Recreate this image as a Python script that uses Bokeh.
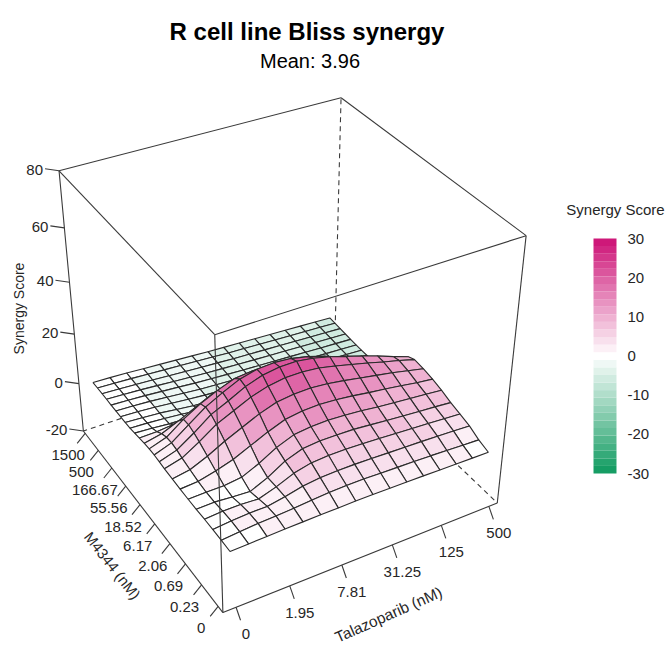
import numpy as np
from bokeh.plotting import figure
from bokeh.models import Range1d
from bokeh.core.properties import value
from bokeh.embed import file_html
from bokeh.resources import INLINE

title_text = "R cell line Bliss synergy"
subtitle_text = "Mean: 3.96"
z_title = "Synergy Score"
x_title = "Talazoparib (nM)"
y_title = "M4344 (nM)"
legend_title = "Synergy Score"
talazoparib_labels = ["0", "1.95", "7.81", "31.25", "125", "500"]
m4344_labels = ["0", "0.23", "0.69", "2.06", "6.17", "18.52", "55.56", "166.67", "500", "1500"]
z_ticks = [-20, 0, 20, 40, 60, 80]
legend_ticks = [-30, -20, -10, 0, 10, 20, 30]

# where each surface row sits along the M4344 axis, in dose steps
row_positions = [0,0.5,1.0,1.5,2.0,2.5,3.0,3.5,4.0,4.33,4.67,5.0,5.33,5.67,6.0,6.33,6.67,7.0,7.33,7.67,8.0,8.33,8.67,9.0]
# Surface heights: one row per M4344 step (front to back), one value per Talazoparib step
r00 = [0.0,0.2,0.4,0.6,0.7,0.8,0.9,1.0,1.0,0.9,0.8,0.7,0.5,0.4,0.3,0.2]
r01 = [0.2,0.8,1.4,1.6,2.0,2.6,3.0,3.2,3.2,3.0,2.8,2.6,2.4,2.1,1.8,1.5]
r02 = [0.3,1.0,1.4,1.4,2.6,4.2,5.0,5.2,5.2,5.0,4.8,4.6,4.4,4.1,3.8,3.5]
r03 = [0.3,0.8,0.8,0.4,2.6,5.4,7.0,7.4,7.4,7.2,6.8,6.4,6.0,5.6,5.2,4.7]
r04 = [0.2,0.4,-0.2,-0.6,2.4,6.4,8.8,9.4,9.4,9.2,8.6,8.0,7.4,6.9,6.4,5.8]
r05 = [0.2,0.4,0.4,1.2,4.2,8.0,10.6,11.4,11.6,11.2,10.6,9.8,9.2,8.6,8.0,7.3]
r06 = [0.3,0.8,2.4,4.5,7.5,10.5,13.0,14.0,14.2,13.8,13.0,12.0,11.2,10.2,9.2,8.4]
r07 = [0.5,1.6,4.5,8.0,11.0,14.0,16.2,17.0,17.2,16.6,15.6,14.4,13.2,12.0,10.6,9.2]
r08 = [0.7,2.5,6.5,11.0,14.0,17.0,19.0,20.0,20.0,19.4,18.0,16.4,14.8,13.0,11.4,9.6]
r09 = [1.0,3.2,7.6,12.5,15.5,18.8,21.0,22.0,22.0,21.0,19.4,17.4,15.4,13.2,10.8,8.6]
r10 = [1.2,3.6,8.4,13.0,16.4,19.4,21.0,21.4,20.8,19.4,17.4,15.0,12.6,10.0,7.4,5.0]
r11 = [1.2,3.4,8.2,12.0,15.0,17.4,18.0,17.4,16.0,14.0,11.4,8.8,6.0,3.6,1.2,-1.0]
r12 = [1.0,2.4,5.2,8.4,11.4,12.0,11.0,9.4,7.6,5.6,3.4,1.4,-0.6,-2.2,-3.2,-4.0]
r13 = [0.6,0.8,1.4,2.4,5.4,4.6,2.6,1.0,-0.2,-1.2,-2.2,-3.0,-3.6,-4.2,-4.6,-5.0]
r14 = [0.2,-0.2,-0.8,-1.0,0.0,-1.4,-2.6,-3.2,-3.6,-3.8,-4.0,-4.2,-4.4,-4.6,-5.0,-5.4]
r15 = [-0.2,-0.5,-1.0,-1.6,-2.4,-3.0,-3.4,-3.8,-4.0,-4.2,-4.4,-4.6,-4.8,-5.0,-5.4,-5.8]
r16 = [-0.3,-0.7,-1.2,-2.0,-2.8,-3.2,-3.6,-4.0,-4.2,-4.4,-4.6,-4.8,-5.2,-5.5,-5.8,-6.2]
r17 = [-0.3,-0.6,-1.1,-1.8,-2.4,-3.0,-3.4,-3.8,-4.2,-4.4,-4.7,-5.0,-5.3,-5.6,-5.9,-6.2]
r18 = [-0.3,-0.6,-1.0,-1.6,-2.2,-2.8,-3.2,-3.6,-4.0,-4.3,-4.6,-4.9,-5.2,-5.5,-5.8,-6.1]
r19 = [-0.3,-0.6,-1.0,-1.5,-2.0,-2.6,-3.0,-3.4,-3.8,-4.1,-4.4,-4.7,-5.0,-5.3,-5.6,-5.9]
r20 = [-0.2,-0.5,-0.9,-1.4,-1.9,-2.4,-2.8,-3.2,-3.6,-3.9,-4.2,-4.5,-4.8,-5.1,-5.4,-5.7]
r21 = [-0.2,-0.5,-0.9,-1.3,-1.8,-2.2,-2.6,-3.0,-3.4,-3.7,-4.0,-4.3,-4.6,-4.9,-5.2,-5.5]
r22 = [-0.2,-0.5,-0.8,-1.2,-1.6,-2.0,-2.4,-2.8,-3.2,-3.5,-3.8,-4.1,-4.4,-4.7,-5.0,-5.3]
r23 = [-0.2,-0.4,-0.7,-1.1,-1.5,-1.9,-2.3,-2.7,-3.0,-3.3,-3.6,-3.9,-4.2,-4.5,-4.8,-5.1]
rows = [r00,r01,r02,r03,r04,r05,r06,r07,r08,r09,r10,r11,r12,r13,r14,r15,r16,r17,r18,r19,r20,r21,r22,r23]
Z = np.array(rows, float)
n_m, n_t = Z.shape

# ---- view: page-pixel frame, and the perspective camera of the 3D box
W, H = 670, 647
OX, OY = 0, 0
T_LIM = (-0.24, 5.18)   # box limits in dose-step units
M_LIM = (-0.28, 9.14)
Z_LIM = (-20, 80)
camera_views = [  # (t, m, z) box corners -> where they appear on the page
    ((T_LIM[0], M_LIM[0], Z_LIM[0]), (222, 612)),
    ((T_LIM[0], M_LIM[1], Z_LIM[0]), (83, 431)),
    ((T_LIM[1], M_LIM[0], Z_LIM[0]), (497, 502)),
    ((T_LIM[0], M_LIM[0], Z_LIM[1]), (214, 334)),
    ((T_LIM[0], M_LIM[1], Z_LIM[1]), (59, 170)),
    ((T_LIM[1], M_LIM[0], Z_LIM[1]), (526, 236)),
    ((T_LIM[1], M_LIM[1], Z_LIM[1]), (340, 97)),
]
A, b = [], []
for (X, Y, Zc), (u, v) in camera_views:
    A.append([X, Y, Zc, 1, 0, 0, 0, 0, -u*X, -u*Y, -u*Zc]); b.append(u)
    A.append([0, 0, 0, 0, X, Y, Zc, 1, -v*X, -v*Y, -v*Zc]); b.append(v)
sol = np.linalg.lstsq(np.array(A, float), np.array(b, float), rcond=None)[0]
P = np.append(sol, 1.0).reshape(3, 4)

def project(t, m, z):
    t, m, z = np.asarray(t, float), np.asarray(m, float), np.asarray(z, float)
    w = P[2, 0]*t + P[2, 1]*m + P[2, 2]*z + P[2, 3]
    return ((P[0, 0]*t + P[0, 1]*m + P[0, 2]*z + P[0, 3]) / w,
            (P[1, 0]*t + P[1, 1]*m + P[1, 2]*z + P[1, 3]) / w)

# ---- colours
MAGENTA = np.array([204, 16, 117.0])
GREEN = np.array([14, 154, 95.0])
N_BANDS = 31
def band_colour(v):
    k = int(np.clip(np.floor((v + 30) / 60 * N_BANDS), 0, N_BANDS - 1))
    mid = (k + 0.5) / N_BANDS * 60 - 30
    f = abs(mid) / 30
    c = (1 - f) * 255 + f * (MAGENTA if mid > 0 else GREEN)
    return "#%02x%02x%02x" % tuple(int(round(x)) for x in c)

p = figure(width=W, height=H, output_backend="svg", toolbar_location=None,
           x_range=Range1d(OX, OX + W), y_range=Range1d(OY + H, OY),
           min_border=0, outline_line_color=None)
p.axis.visible = False
p.grid.visible = False
p.background_fill_color = "white"
BOX = "#3a3a3a"
TXT = "#262626"
FONT = value("Liberation Sans")

def seg(a, b, **kw):
    x, y = project([a[0], b[0]], [a[1], b[1]], [a[2], b[2]])
    p.line(list(x), list(y), line_color=BOX, line_width=1.1, **kw)

t0, t1 = T_LIM; m0, m1 = M_LIM; z0, z1 = Z_LIM
# hidden box edges first
for a, b_ in [((t1, m1, z0), (t0, m1, z0)), ((t1, m1, z0), (t1, m0, z0)), ((t1, m1, z0), (t1, m1, z1))]:
    seg(a, b_, line_dash="5 4")

# surface, far facets first
T = np.arange(n_t) / 3.0
M = np.array(row_positions, float)
xs, ys, cols = [], [], []
for i in range(n_m - 2, -1, -1):
    for j in range(n_t - 2, -1, -1):
        tt = [T[j], T[j+1], T[j+1], T[j]]
        mm = [M[i], M[i], M[i+1], M[i+1]]
        zz = [Z[i, j], Z[i, j+1], Z[i+1, j+1], Z[i+1, j]]
        x, y = project(tt, mm, zz)
        xs.append(list(x)); ys.append(list(y))
        cols.append(band_colour(np.mean(zz)))
p.patches(xs, ys, fill_color=cols, line_color="#2b2b2b", line_width=1.1)

# visible box edges
for a, b_ in [((t0, m0, z0), (t0, m1, z0)), ((t0, m0, z0), (t1, m0, z0)),
              ((t0, m0, z0), (t0, m0, z1)), ((t0, m1, z0), (t0, m1, z1)), ((t1, m0, z0), (t1, m0, z1)),
              ((t0, m0, z1), (t0, m1, z1)), ((t0, m0, z1), (t1, m0, z1)),
              ((t1, m1, z1), (t0, m1, z1)), ((t1, m1, z1), (t1, m0, z1))]:
    seg(a, b_)

# ticks and labels
def tick_set(xb, yb, dx, dy, lx, ly, labels, align="center"):
    p.segment(list(xb), list(yb), list(np.array(xb)+dx), list(np.array(yb)+dy), line_color=BOX, line_width=1.1)
    p.text(list(np.array(xb)+lx), list(np.array(yb)+ly), text=labels, text_font=FONT, text_font_size="15px",
           text_color=TXT, text_align=align, text_baseline="middle")

xb, yb = project(np.arange(6.0), np.full(6, m0), np.full(6, float(z0)))
tick_set(xb, yb, 4.5, 13, 10, 27, talazoparib_labels)
xb, yb = project(np.full(10, t0), np.arange(10.0), np.full(10, float(z0)))
tick_set(xb, yb, -8, 10, -17, 22, m4344_labels)
xb, yb = project(np.full(6, t0), np.full(6, m1), np.array(z_ticks, float))
tick_set(xb, yb, -14, -2, -16, -1, [str(v) for v in z_ticks], align="right")

def label(x, y, s, size, angle=0.0, bold=False, color=TXT):
    p.text([x], [y], text=[s], text_font=FONT, text_font_size=size, text_color=color, angle=angle,
           angle_units="deg", text_align="center", text_baseline="middle",
           text_font_style="bold" if bold else "normal")

label(306.5, 31, title_text, "24px", bold=True, color="#000000")
label(309.5, 60, subtitle_text, "20px", color="#000000")
label(18, 308, z_title, "14px", angle=90)
label(112, 565, y_title, "15px", angle=-52)
label(388, 614, x_title, "15.5px", angle=24)
label(615, 209, legend_title, "15px")

# colour legend
L_TOP, L_BOT = 238.0, 473.0
def ly(v):
    return L_BOT + (np.asarray(v, float) + 30) / 60 * (L_TOP - L_BOT)
edges = np.linspace(-30, 30, N_BANDS + 1)
p.quad(left=593, right=616, bottom=list(ly(edges[:-1])), top=list(ly(edges[1:])),
       fill_color=[band_colour(v) for v in (edges[:-1] + edges[1:]) / 2], line_color=None)
p.text([627]*len(legend_ticks), list(ly(legend_ticks)), text=[str(v) for v in legend_ticks], text_font=FONT,
       text_font_size="15px", text_color=TXT, text_align="left", text_baseline="middle")

open("out.html", "w").write(file_html(p, INLINE))
